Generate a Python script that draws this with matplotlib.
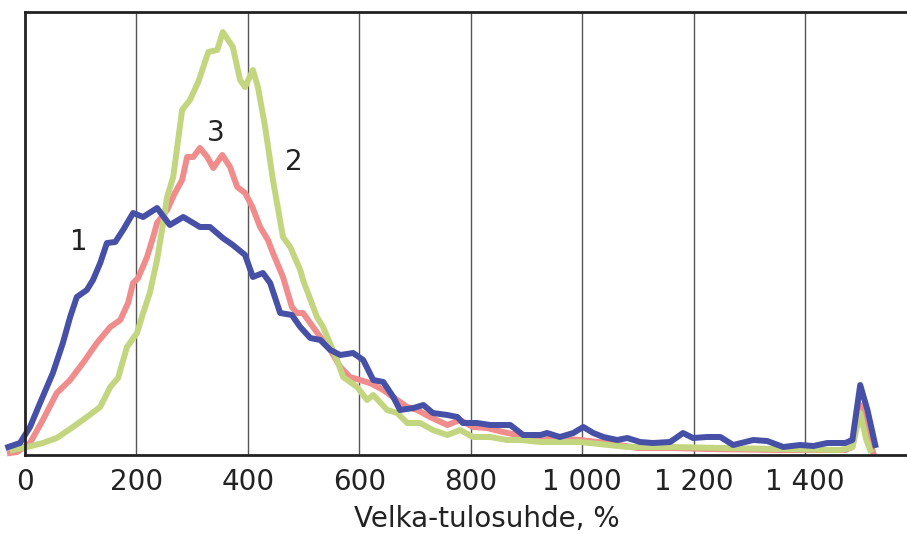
import matplotlib.pyplot as plt

# Velka-tulosuhde distributions, heights in arbitrary units
x1 = [-30, -9, 9, 27, 50, 68, 81, 93, 111, 122, 135, 147, 162, 176, 194, 212, 237, 260, 284, 314,
      332, 355, 373, 395, 409, 427, 440, 458, 479, 494, 512, 530, 548, 566, 589, 607, 625, 643, 661, 673,
      697, 715, 732, 758, 776, 786, 811, 835, 871, 894, 925, 937, 960, 984, 1002, 1020, 1038, 1063, 1081, 1104,
      1127, 1158, 1181, 1199, 1224, 1248, 1271, 1307, 1332, 1361, 1391, 1415, 1440, 1472, 1485, 1499, 1512, 1526]
y1 = [8, 12, 28, 52, 82, 112, 138, 158, 165, 175, 192, 212, 213, 225, 242, 238, 247, 230, 238, 228,
      228, 217, 210, 200, 178, 182, 172, 142, 140, 128, 117, 115, 105, 100, 102, 95, 75, 73, 58, 45,
      47, 50, 42, 40, 38, 32, 32, 30, 30, 20, 20, 22, 18, 22, 28, 22, 18, 15, 17, 13,
      12, 13, 22, 17, 18, 18, 10, 15, 14, 8, 10, 9, 12, 12, 15, 70, 45, 10]

x2 = [-22, 4, 32, 57, 86, 111, 135, 153, 167, 183, 201, 212, 224, 237, 248, 255, 266, 282, 296, 311,
      329, 345, 355, 373, 386, 395, 409, 418, 431, 445, 463, 476, 494, 499, 524, 535, 560, 571, 596, 614,
      625, 650, 668, 686, 709, 732, 758, 781, 804, 835, 865, 889, 925, 996, 1081, 1163, 1253, 1355, 1463, 1485,
      1499, 1510, 1517]
y2 = [5, 8, 12, 17, 28, 38, 48, 68, 77, 108, 122, 142, 162, 195, 232, 258, 278, 345, 355, 373,
      403, 405, 423, 408, 375, 368, 385, 368, 328, 275, 218, 208, 185, 175, 138, 128, 95, 78, 68, 55,
      60, 45, 42, 32, 32, 25, 20, 25, 18, 18, 15, 15, 13, 13, 8, 8, 7, 6, 5, 8,
      42, 15, 5]

x3 = [-27, -14, 9, 32, 57, 81, 104, 129, 153, 171, 185, 194, 203, 219, 230, 237, 255, 269, 282, 291,
      302, 314, 327, 338, 354, 368, 381, 395, 408, 422, 436, 445, 463, 479, 488, 499, 517, 530, 548, 566,
      583, 601, 619, 643, 668, 686, 704, 727, 758, 781, 804, 829, 858, 883, 996, 1045, 1099, 1163, 1224, 1355,
      1472, 1485, 1499, 1512, 1522]
y3 = [2, 3, 12, 35, 62, 75, 92, 112, 128, 135, 152, 172, 177, 198, 218, 232, 245, 262, 275, 298,
      298, 307, 298, 287, 300, 288, 268, 262, 248, 228, 215, 202, 178, 148, 142, 142, 128, 118, 105, 88,
      78, 75, 72, 65, 55, 48, 45, 38, 30, 35, 28, 27, 23, 20, 15, 12, 7, 7, 6, 5,
      5, 8, 50, 20, 3]

ticks = [0, 200, 400, 600, 800, 1000, 1200, 1400]
tick_labels = ['0', '200', '400', '600', '800', '1 000', '1 200', '1 400']

fig = plt.figure(figsize=(9.07, 5.34), dpi=100)
ax = fig.add_axes([25 / 907, 79 / 534, 882 / 907, 443 / 534])

ax.plot(x3, y3, color='#f08c8c', linewidth=4.3, clip_on=False, solid_joinstyle='round')
ax.plot(x2, y2, color='#c3d67f', linewidth=4.3, clip_on=False, solid_joinstyle='round')
ax.plot(x1, y1, color='#4650a6', linewidth=4.3, clip_on=False, solid_joinstyle='round')

ax.set_xlim(0, 1583)
ax.set_ylim(0, 443)
ax.set_yticks([])
ax.set_xticks(ticks)
ax.set_xticklabels(tick_labels, fontsize=20, color='#222222')
ax.tick_params(axis='x', length=0, pad=9)
for t in ticks[1:]:
    ax.axvline(t, color='#555555', linewidth=1, zorder=0)
for s in ['left', 'top', 'bottom']:
    ax.spines[s].set_linewidth(2)
    ax.spines[s].set_color('#222222')
ax.spines['right'].set_visible(False)

ax.set_xlabel('Velka-tulosuhde, %', fontsize=20, color='#222222', labelpad=7, x=0.524)

ax.text(96, 213, '1', fontsize=20, ha='center', va='center', color='#222222')
ax.text(342, 322, '3', fontsize=20, ha='center', va='center', color='#222222')
ax.text(483, 293, '2', fontsize=20, ha='center', va='center', color='#222222')

fig.savefig('out.png', dpi=100)
